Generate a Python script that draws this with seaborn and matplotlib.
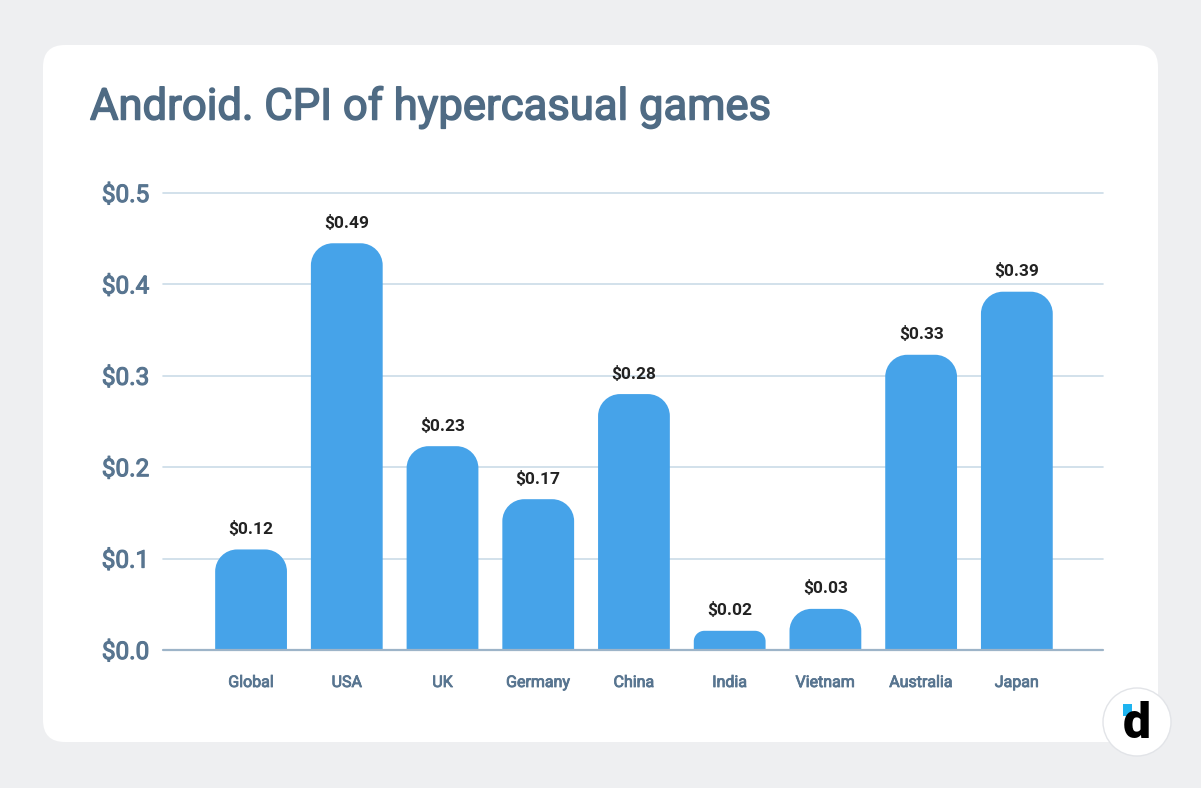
import numpy as np
import pandas as pd
import matplotlib
matplotlib.use("Agg")
import matplotlib.pyplot as plt
import matplotlib.patheffects as pe
import seaborn as sns
from matplotlib.patches import FancyBboxPatch, Rectangle, Ellipse, PathPatch
from matplotlib.path import Path

countries = ["Global", "USA", "UK", "Germany", "China", "India", "Vietnam", "Australia", "Japan"]
cpi_bar = [0.110, 0.445, 0.223, 0.165, 0.280, 0.021, 0.045, 0.323, 0.392]
cpi_labels = ["$0.12", "$0.49", "$0.23", "$0.17", "$0.28", "$0.02", "$0.03", "$0.33", "$0.39"]
y_ticks = [0.0, 0.1, 0.2, 0.3, 0.4, 0.5]

BAR_COLOR = "#46A3E9"
TEXT_COLOR = "#4F6B84"
TICK_COLOR = "#587590"
GRID_COLOR = "#CBDBE8"
BG_COLOR = "#EEEFF1"

df = pd.DataFrame({"country": countries, "cpi": cpi_bar})

sns.set_style("white")
plt.rcParams["font.family"] = ["Roboto", "DejaVu Sans"]


def medium(color, lw):
    # no Roboto Medium installed, fake a bit of extra weight
    return [pe.withStroke(linewidth=lw, foreground=color)]


def rounded_top(x0, w, h, rx, ry):
    k = 0.5523
    x1 = x0 + w
    verts = [(x0, 0), (x0, h - ry),
             (x0, h - ry + k * ry), (x0 + rx - k * rx, h), (x0 + rx, h),
             (x1 - rx, h),
             (x1 - rx + k * rx, h), (x1, h - ry + k * ry), (x1, h - ry),
             (x1, 0), (x0, 0)]
    codes = [Path.MOVETO, Path.LINETO,
             Path.CURVE4, Path.CURVE4, Path.CURVE4,
             Path.LINETO,
             Path.CURVE4, Path.CURVE4, Path.CURVE4,
             Path.LINETO, Path.CLOSEPOLY]
    return Path(verts, codes)


W, H = 1201, 788
fig = plt.figure(figsize=(W / 100, H / 100), dpi=100)
fig.patch.set_facecolor(BG_COLOR)

# white card behind everything
card = FancyBboxPatch((43 / W, 1 - 742 / H), (1158 - 43) / W, (742 - 45) / H,
                      boxstyle="round,pad=0,rounding_size=%f" % (22 / W),
                      mutation_aspect=W / H, transform=fig.transFigure,
                      facecolor="white", edgecolor="none", zorder=-10)
fig.patches.append(card)

ax = fig.add_axes([163 / W, 1 - 650 / H, (1103 - 163) / W, (650 - 193) / H])
ax.set_facecolor("none")

sns.barplot(data=df, x="country", y="cpi", color=BAR_COLOR, width=0.75,
            saturation=1, ax=ax, zorder=3)

ax.set_xlim(-0.92, 8.9)
ax.set_ylim(0, 0.5)

ax.bar_label(ax.containers[0], labels=cpi_labels, padding=9,
             fontsize=12.5, fontweight="bold", color="#222222")

# rounded tops on each bar
x_per_px = (8.9 + 0.92) / (1103 - 163)
y_per_px = 0.5 / (650 - 193)
r_px = 22
for p in list(ax.patches):
    x, w, h = p.get_x(), p.get_width(), p.get_height()
    ry = min(r_px * y_per_px, h * 0.55)
    rx = ry / y_per_px * x_per_px
    ax.add_patch(PathPatch(rounded_top(x, w, h, rx, ry), facecolor=BAR_COLOR,
                           edgecolor="none", zorder=3))
    p.set_visible(False)

ax.set_yticks(y_ticks)
ax.set_yticklabels(["$%.1f" % v for v in y_ticks])
for v in y_ticks[1:]:
    ax.axhline(v, color=GRID_COLOR, lw=1.2, zorder=1, clip_on=False)
ax.axhline(0, color="#9DB4C8", lw=1.6, zorder=4, clip_on=False)

ax.tick_params(axis="y", length=0, pad=10, labelsize=17.5, labelcolor=TICK_COLOR)
ax.tick_params(axis="x", length=0, pad=18, labelsize=11.5, labelcolor=TICK_COLOR)
for lbl in ax.get_yticklabels():
    lbl.set_path_effects(medium(TICK_COLOR, 0.8))
for lbl in ax.get_xticklabels():
    lbl.set_path_effects(medium(TICK_COLOR, 0.6))
ax.set_xlabel("")
ax.set_ylabel("")
sns.despine(ax=ax, left=True, bottom=True)

fig.text(90 / W, 1 - 107 / H, "Android. CPI of hypercasual games",
         fontsize=31.4, color=TEXT_COLOR, va="center", ha="left",
         path_effects=medium(TEXT_COLOR, 1.1))

# logo
lx, ly = 1137 / W, 1 - 722 / H
fig.patches.append(Ellipse((lx, ly), 68 / W, 68 / H, transform=fig.transFigure,
                           facecolor="white", edgecolor="#E2E4E8", lw=1, zorder=5))
fig.patches.append(Rectangle((1123 / W, 1 - 716 / H), 9 / W, 12 / H,
                             transform=fig.transFigure, facecolor="#1EB4F0",
                             edgecolor="none", zorder=6))
fig.text(1137 / W, 1 - 724 / H, "d", fontsize=36, fontweight="heavy",
         color="black", ha="center", va="center", zorder=7)

fig.savefig("out.png", dpi=100, facecolor=fig.get_facecolor())
